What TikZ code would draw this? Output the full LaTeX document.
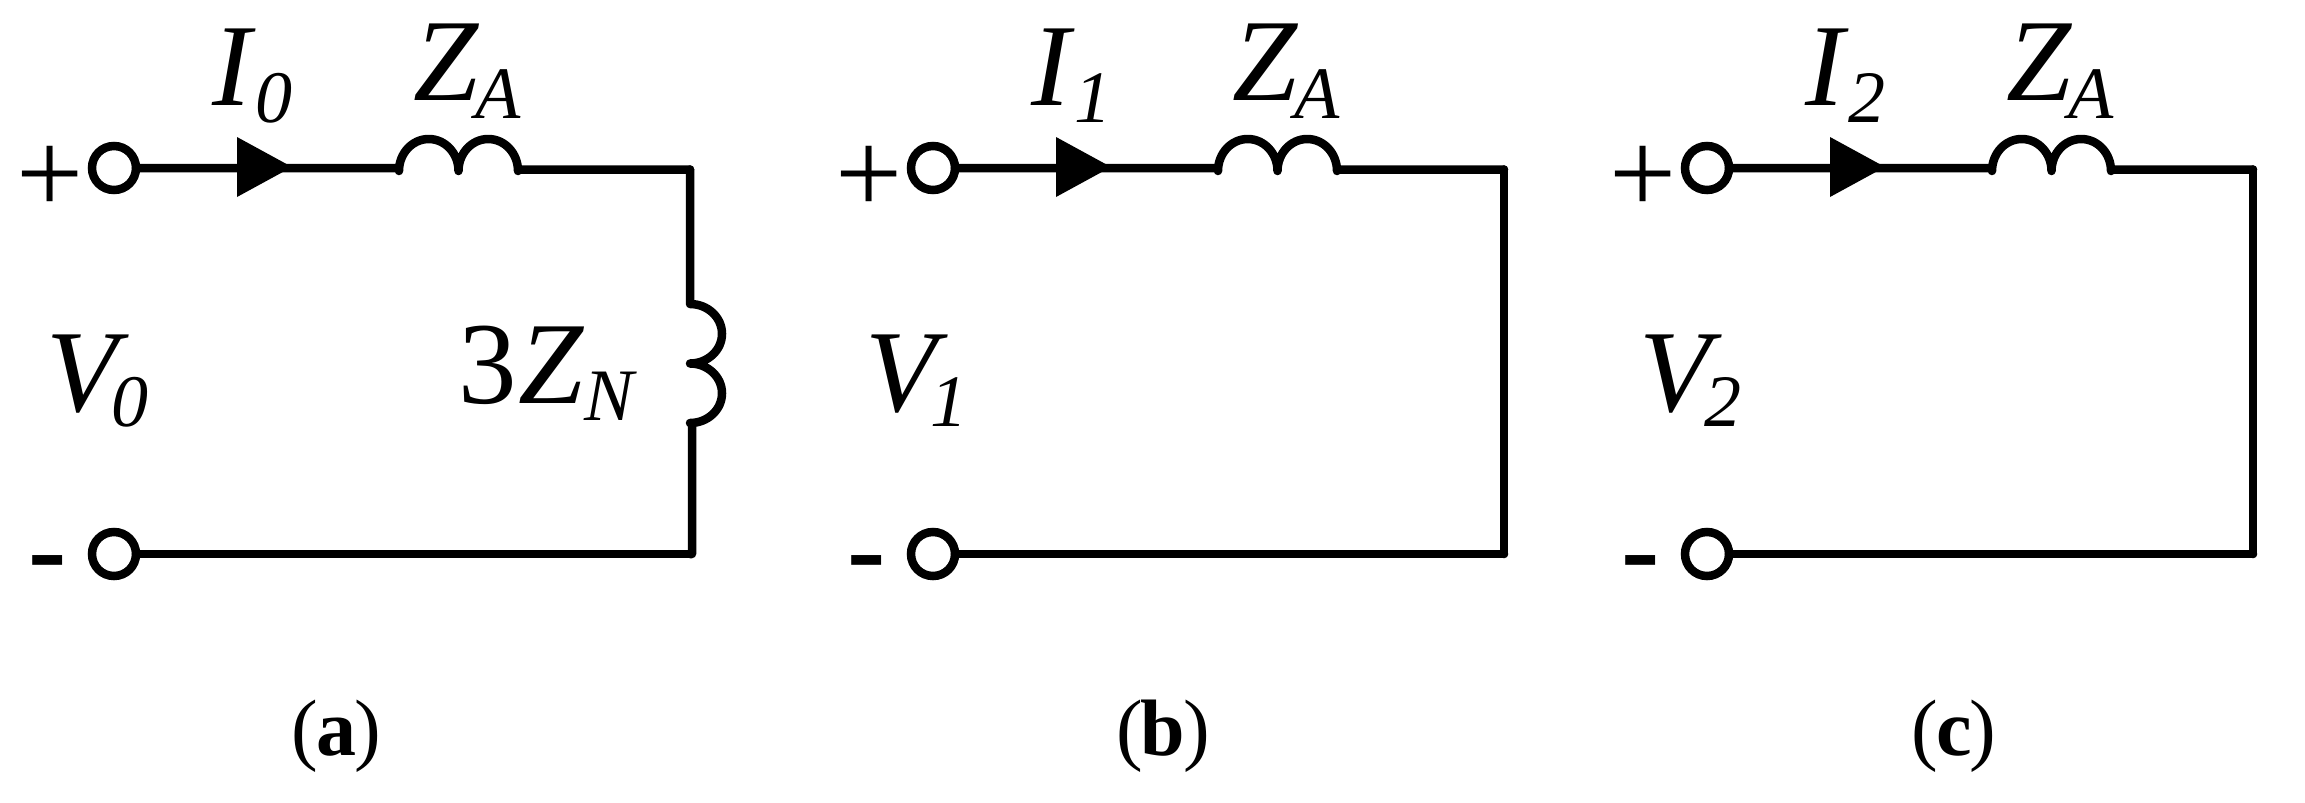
\documentclass[tikz,border=0pt]{standalone}
\usepackage{fontspec}
\setmainfont{Liberation Serif}
% #1 main letter, #2 kern before subscript, #3 subscript, #4 drop
\newcommand{\symlab}[4]{{\fontsize{117}{120}\selectfont\itshape #1\kern#2pt\fontsize{74}{80}\selectfont\raisebox{-#4pt}{#3}}}
\newcommand{\threeZ}{{\fontsize{117}{120}\selectfont 3\kern1.5pt\itshape Z\kern1pt\fontsize{74}{80}\selectfont\raisebox{-17pt}{N}}}
\newcommand{\caplabel}[1]{{\fontsize{80}{86}\selectfont(\kern-2pt\textbf{#1}\kern-2pt)}}
\tikzset{
  wire/.style={line width=8.5pt,line join=round,line cap=round},
  terminal/.style={circle,draw,line width=8.5pt,minimum size=44pt,inner sep=0pt,outer sep=0pt,fill=white},
  textlab/.style={anchor=base west,inner sep=0pt,outer sep=0pt},
  headtip/.style={fill=black,draw=none}
}
% #1 name, #2 x offset, #3 wire right x, #4 subscript
\newcommand{\circuit}[4]{%
  \node[terminal] (#1p) at (114+#2,168) {};
  \node[terminal] (#1m) at (114+#2,554) {};
  \coordinate (#1b) at (292+#2,167);
  \coordinate (#1l) at (399+#2,168);
  \coordinate (#1s) at (399+#2,171);
  \coordinate (#1r) at (518+#2,169.5);
  \coordinate (#1c) at (#3,169.5);
  \coordinate (#1d) at (#3,554);
  \fill[headtip] (237+#2,137) -- (#1b) -- (237+#2,197) -- cycle;
  \draw[wire] (#1p.east) -- (#1l) -- (#1s)
     arc[start angle=180,end angle=0,x radius=29.75pt,y radius=32pt]
     arc[start angle=180,end angle=0,x radius=29.75pt,y radius=32pt] -- (#1r) -- (#1c);
  \draw[wire] (#1m.east) -- (#1d);
  \node[textlab] (#1i) at (212+#2,105) {\symlab{I}{5}{#4}{17}};
  \node[textlab] (#1z) at (413+#2,100) {\symlab{Z}{-3}{A}{18}};
  \node[textlab] (#1v) at (46+#2,411) {\symlab{V}{-6}{#4}{15}};
  \node[textlab] (#1plus) at (16.4+#2,213) {\fontsize{119}{120}\selectfont +};
  \node[textlab] (#1minus) at (28+#2,587) {\fontsize{115}{120}\selectfont\bfseries -};
}
\begin{document}
\begin{tikzpicture}[x=1pt,y=-1pt]
\useasboundingbox (0,0) rectangle (2305,803);
\circuit{A}{0}{690}{0}
\circuit{B}{819}{1504}{1}
\circuit{C}{1593}{2253}{2}
% load of (a)
\coordinate (Lt) at (690,304);
\coordinate (Lb) at (692,423);
\draw[wire] (Ac) -- (Lt) arc[start angle=90,end angle=-90,x radius=32pt,y radius=29.75pt]
   arc[start angle=90,end angle=-90,x radius=32pt,y radius=29.75pt] -- (Lb) -- (692,554) -- (Ad);
\draw[wire] (Bc) -- (Bd);
\draw[wire] (Cc) -- (Cd);
\node[textlab] (n3z) at (458,403) {\threeZ};
\node[anchor=base,inner sep=0pt] (capa) at (336,755) {\caplabel{a}};
\node[anchor=base,inner sep=0pt] (capb) at (1163,755) {\caplabel{b}};
\node[anchor=base,inner sep=0pt] (capc) at (1954,755) {\caplabel{c}};
\end{tikzpicture}
\end{document}
